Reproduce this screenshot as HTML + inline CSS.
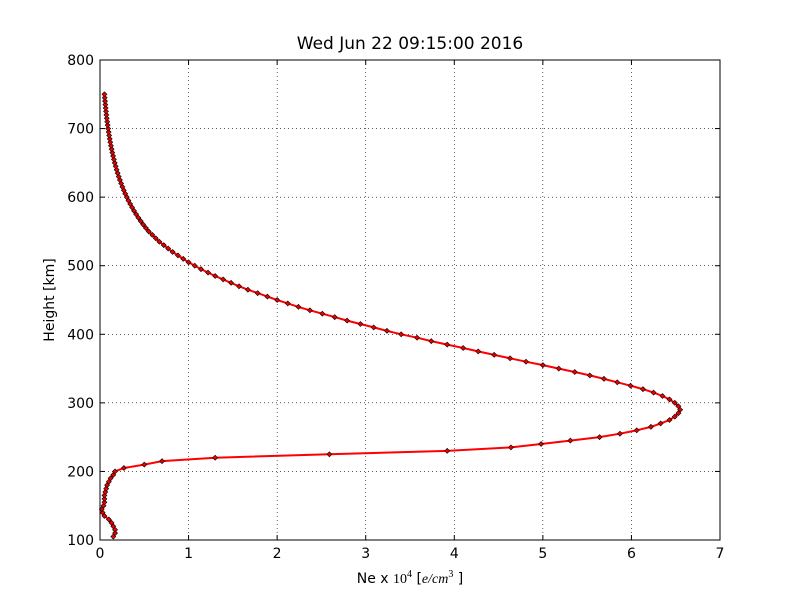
<!DOCTYPE html>
<html><head><meta charset="utf-8"><style>
body{margin:0;background:#fff;width:800px;height:600px;overflow:hidden}
svg text{font-family:"DejaVu Sans","Liberation Sans",sans-serif;fill:#000}
</style></head><body>
<svg id="s" width="800" height="600" xmlns="http://www.w3.org/2000/svg">
<rect width="800" height="600" fill="#fff"/>
<g id="grid" stroke="#000" stroke-width="0.6" stroke-dasharray="1,3"></g>
<polyline id="ln" fill="none" stroke="#f00" stroke-width="2"/>
<g id="mk" fill="#e00" stroke="#000" stroke-width="0.6"></g>
<rect x="100" y="60" width="620" height="480" fill="none" stroke="#000" stroke-width="1"/>
<g id="ticks" stroke="#000" stroke-width="1"></g>
<g id="lbl" font-size="14"></g>
<text x="410" y="49" font-size="17" text-anchor="middle">Wed Jun 22 09:15:00 2016</text>
<text x="54" y="300" font-size="14" text-anchor="middle" transform="rotate(-90 54 300)">Height [km]</text>
<text x="410" y="583" font-size="14" text-anchor="middle">Ne x <tspan font-family="Liberation Serif">10</tspan><tspan font-size="10" dy="-6" font-family="Liberation Serif">4</tspan><tspan dy="6">  [</tspan><tspan font-style="italic" font-family="Liberation Serif">e/cm</tspan><tspan font-size="10" dy="-6" font-family="Liberation Serif">3</tspan><tspan dy="6"> ]</tspan></text>
</svg>
<script>
var X=function(v){return 100+v*620/7},Y=function(h){return 540-(h-100)*480/700};
var g=document.getElementById('grid'),t=document.getElementById('ticks'),l=document.getElementById('lbl'),ns='http://www.w3.org/2000/svg';
function el(p,n,a,txt){var e=document.createElementNS(ns,n);for(var k in a)e.setAttribute(k,a[k]);if(txt!==undefined)e.textContent=txt;p.appendChild(e);}
for(var i=0;i<=7;i++){var x=X(i);if(i>0&&i<7)el(g,'line',{x1:x,y1:60,x2:x,y2:540});el(t,'line',{x1:x,y1:540,x2:x,y2:535});el(t,'line',{x1:x,y1:60,x2:x,y2:65});el(l,'text',{x:x,y:558,'text-anchor':'middle'},i);}
for(var h=100;h<=800;h+=100){var y=Y(h);if(h>100&&h<800)el(g,'line',{x1:100,y1:y,x2:720,y2:y});el(t,'line',{x1:100,y1:y,x2:105,y2:y});el(t,'line',{x1:715,y1:y,x2:720,y2:y});el(l,'text',{x:94,y:y+5,'text-anchor':'end'},h);}
var low=[0.15,0.17,0.17,0.15,0.13,0.1,0.05,0.03,0.02,0.04,0.05,0.05,0.05,0.06,0.07,0.08,0.1,0.12,0.15,0.17];
var mid=[0.27,0.5,0.7,1.3,2.59,3.92,4.64,4.98,5.31,5.64,5.87,6.06,6.22,6.33,6.43,6.49,6.53,6.55,6.53,
6.49,6.43,6.35,6.25,6.13,5.99,5.84,5.69,5.53,5.36,5.18,5.0,4.81,4.63,4.45,4.27,4.10,3.92,3.74,3.58,3.40,3.24,
3.09,2.94,2.79,2.65,2.51,2.37,2.24,2.12,2.0,1.89,1.78,1.67,1.57,1.48,1.39,1.3,1.22,1.14,1.07,1.0,0.94,0.88,0.82,0.77,0.72,0.67,0.63,0.59,0.55];
var pts=[],hh=105;
low.forEach(function(v){pts.push([v,hh]);hh+=5;});
mid.forEach(function(v){pts.push([v,hh]);hh+=5;});
var last=pts[pts.length-1][0];while(hh<=750){last=Math.max(0.05,last*0.942);pts.push([last,hh]);hh+=5;}
document.getElementById('ln').setAttribute('points',pts.map(function(p){return X(p[0]).toFixed(1)+','+Y(p[1]).toFixed(1)}).join(' '));
var m=document.getElementById('mk');
pts.forEach(function(p){var x=X(p[0]),y=Y(p[1]);el(m,'polygon',{points:(x)+','+(y-2.5)+' '+(x+2.5)+','+y+' '+x+','+(y+2.5)+' '+(x-2.5)+','+y});});
</script>
</body></html>
